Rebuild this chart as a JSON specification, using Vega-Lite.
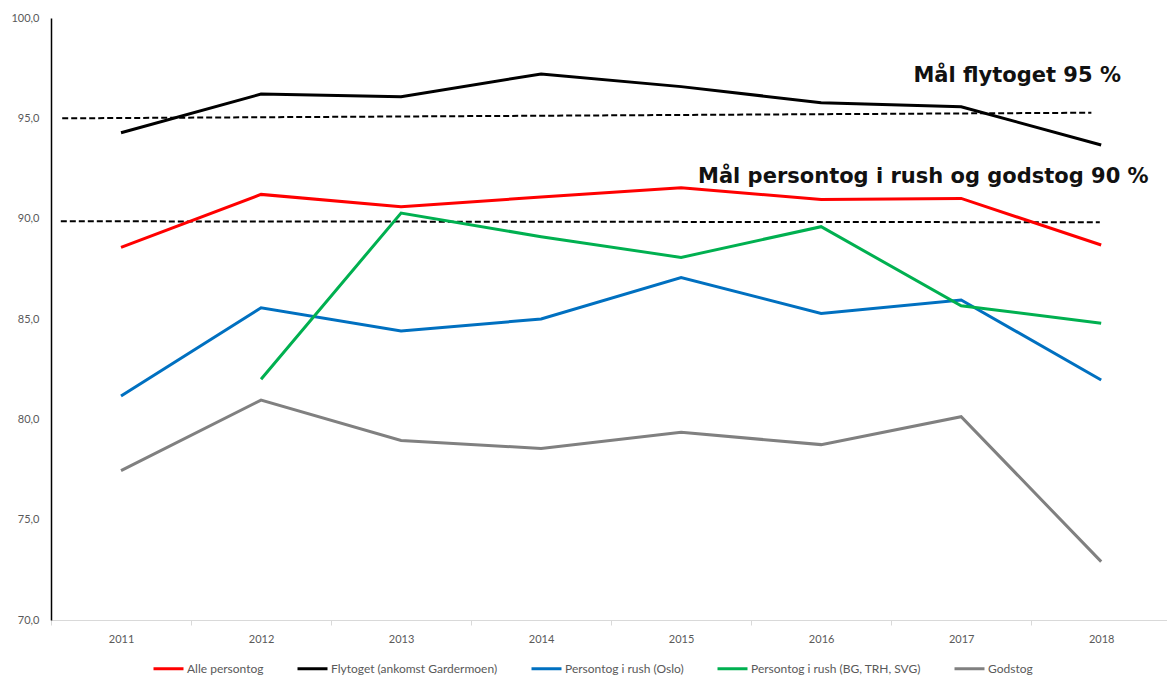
{
  "$schema": "https://vega.github.io/schema/vega-lite/v6.json",
  "autosize": {"type": "none"},
  "padding": {"left": 51, "top": 18, "right": 0, "bottom": 55},
  "width": 1116,
  "height": 602,
  "background": "white",
  "config": {
    "view": {"stroke": null},
    "font": "Lato",
    "axis": {"labelFont": "Lato", "labelColor": "#595959", "labelFontSize": 11, "title": null, "grid": false}
  },
  "datasets": {
    "series": [
      {"year": 2011, "serie": "Alle persontog", "value": 88.57},
      {"year": 2012, "serie": "Alle persontog", "value": 91.21},
      {"year": 2013, "serie": "Alle persontog", "value": 90.60},
      {"year": 2014, "serie": "Alle persontog", "value": 91.08},
      {"year": 2015, "serie": "Alle persontog", "value": 91.54},
      {"year": 2016, "serie": "Alle persontog", "value": 90.96},
      {"year": 2017, "serie": "Alle persontog", "value": 91.01},
      {"year": 2018, "serie": "Alle persontog", "value": 88.69},
      {"year": 2011, "serie": "Flytoget (ankomst Gardermoen)", "value": 94.28},
      {"year": 2012, "serie": "Flytoget (ankomst Gardermoen)", "value": 96.21},
      {"year": 2013, "serie": "Flytoget (ankomst Gardermoen)", "value": 96.08},
      {"year": 2014, "serie": "Flytoget (ankomst Gardermoen)", "value": 97.21},
      {"year": 2015, "serie": "Flytoget (ankomst Gardermoen)", "value": 96.58},
      {"year": 2016, "serie": "Flytoget (ankomst Gardermoen)", "value": 95.78},
      {"year": 2017, "serie": "Flytoget (ankomst Gardermoen)", "value": 95.58},
      {"year": 2018, "serie": "Flytoget (ankomst Gardermoen)", "value": 93.67},
      {"year": 2011, "serie": "Persontog i rush (Oslo)", "value": 81.16},
      {"year": 2012, "serie": "Persontog i rush (Oslo)", "value": 85.56},
      {"year": 2013, "serie": "Persontog i rush (Oslo)", "value": 84.40},
      {"year": 2014, "serie": "Persontog i rush (Oslo)", "value": 85.00},
      {"year": 2015, "serie": "Persontog i rush (Oslo)", "value": 87.06},
      {"year": 2016, "serie": "Persontog i rush (Oslo)", "value": 85.28},
      {"year": 2017, "serie": "Persontog i rush (Oslo)", "value": 85.95},
      {"year": 2018, "serie": "Persontog i rush (Oslo)", "value": 81.96},
      {"year": 2012, "serie": "Persontog i rush (BG, TRH, SVG)", "value": 82.00},
      {"year": 2013, "serie": "Persontog i rush (BG, TRH, SVG)", "value": 90.28},
      {"year": 2014, "serie": "Persontog i rush (BG, TRH, SVG)", "value": 89.10},
      {"year": 2015, "serie": "Persontog i rush (BG, TRH, SVG)", "value": 88.07},
      {"year": 2016, "serie": "Persontog i rush (BG, TRH, SVG)", "value": 89.60},
      {"year": 2017, "serie": "Persontog i rush (BG, TRH, SVG)", "value": 85.66},
      {"year": 2018, "serie": "Persontog i rush (BG, TRH, SVG)", "value": 84.79},
      {"year": 2011, "serie": "Godstog", "value": 77.44},
      {"year": 2012, "serie": "Godstog", "value": 80.96},
      {"year": 2013, "serie": "Godstog", "value": 78.95},
      {"year": 2014, "serie": "Godstog", "value": 78.55},
      {"year": 2015, "serie": "Godstog", "value": 79.35},
      {"year": 2016, "serie": "Godstog", "value": 78.74},
      {"year": 2017, "serie": "Godstog", "value": 80.13},
      {"year": 2018, "serie": "Godstog", "value": 72.91}
    ],
    "targets": [
      {"year": 2010.58, "maal": "Mål flytoget", "value": 95.0},
      {"year": 2017.93, "maal": "Mål flytoget", "value": 95.28},
      {"year": 2010.57, "maal": "Mål persontog", "value": 89.87},
      {"year": 2017.99, "maal": "Mål persontog", "value": 89.82}
    ],
    "notes": [
      {"year": 2017.40, "value": 97.11, "text": "Mål flytoget 95 %"},
      {"year": 2016.73, "value": 92.08, "text": "Mål persontog i rush og godstog 90 %"}
    ]
  },
  "encoding": {
    "x": {
      "field": "year", "type": "quantitative",
      "scale": {"domain": [2010.5, 2018.47], "nice": false, "zero": false},
      "axis": {
        "values": [2010.5, 2011, 2011.5, 2012, 2012.5, 2013, 2013.5, 2014, 2014.5, 2015, 2015.5, 2016, 2016.5, 2017, 2017.5, 2018],
        "labelExpr": "datum.value % 1 === 0 ? '' + datum.value : ''",
        "labelOverlap": false,
        "labelPadding": 8,
        "domainColor": "#d9d9d9",
        "domainWidth": 1,
        "tickColor": "#d9d9d9",
        "tickSize": 5,
        "tickOpacity": {"condition": {"test": "datum.value % 1 === 0", "value": 0}, "value": 1}
      }
    },
    "y": {
      "field": "value", "type": "quantitative",
      "scale": {"domain": [70, 100], "nice": false, "zero": false},
      "axis": {
        "values": [70, 75, 80, 85, 90, 95, 100],
        "labelExpr": "replace(format(datum.value, '.1f'), '.', ',')",
        "ticks": false,
        "domainColor": "#000000",
        "domainWidth": 1.5,
        "labelPadding": 12
      }
    }
  },
  "layer": [
    {
      "data": {"name": "targets"},
      "mark": {"type": "line", "color": "#000000", "strokeWidth": 2, "strokeDash": [6, 3]},
      "encoding": {"detail": {"field": "maal"}}
    },
    {
      "data": {"name": "series"},
      "mark": {"type": "line", "strokeWidth": 3},
      "encoding": {
        "color": {
          "field": "serie", "type": "nominal",
          "scale": {
            "domain": ["Alle persontog", "Flytoget (ankomst Gardermoen)", "Persontog i rush (Oslo)", "Persontog i rush (BG, TRH, SVG)", "Godstog"],
            "range": ["#ff0000", "#000000", "#0070c0", "#00b050", "#808080"]
          },
          "legend": {
            "title": null,
            "orient": "none",
            "direction": "horizontal",
            "legendX": 101,
            "legendY": 634,
            "padding": 0,
            "symbolType": "stroke",
            "symbolSize": 900,
            "symbolStrokeWidth": 3,
            "symbolOffset": 0,
            "labelOffset": 2,
            "labelFont": "Lato",
            "labelFontSize": 12,
            "labelColor": "#595959",
            "labelLimit": 400,
            "columnPadding": 27
          }
        }
      }
    },
    {
      "data": {"name": "notes"},
      "mark": {"type": "text", "font": "DejaVu Sans", "fontWeight": "bold", "fontSize": 21, "color": "#111111", "align": "center", "baseline": "middle"},
      "encoding": {"text": {"field": "text"}}
    }
  ]
}
